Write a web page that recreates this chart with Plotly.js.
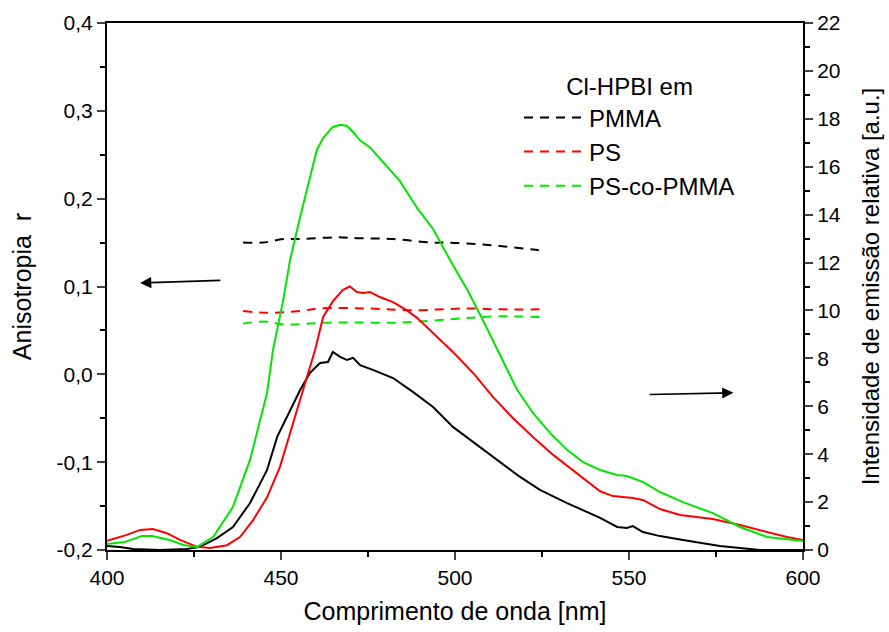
<!DOCTYPE html>
<html>
<head>
<meta charset="utf-8">
<script src="https://cdn.plot.ly/plotly-3.0.1.min.js"></script>
<style>html,body{margin:0;padding:0;background:#fff;}#chart{width:889px;height:632px;}</style>
</head>
<body>
<div id="chart"></div>
<script>
// Emission spectra (right axis, a.u.)
const emBlackX = [400, 403.7, 407.5, 415, 423, 426.7, 431.6, 436.2, 441.1, 446, 448.9, 452.6, 455.5, 458.3, 461.2, 463.5, 464.9, 467, 469, 470.7, 472.7, 476.4, 482.2, 487.9, 493.7, 499.4, 507.2, 512.9, 518.7, 524.4, 532.2, 541.7, 546.6, 549.4, 551.1, 554, 558.9, 565.5, 570.4, 576.1, 581.9, 587.6, 600];
const emBlackY = [0.17, 0.13, 0.04, 0, 0.04, 0.13, 0.50, 0.96, 1.96, 3.34, 4.72, 5.85, 6.68, 7.39, 7.81, 7.85, 8.27, 8.06, 7.93, 8.02, 7.72, 7.52, 7.18, 6.6, 5.97, 5.14, 4.3, 3.67, 3.05, 2.51, 1.96, 1.34, 0.96, 0.92, 1.0, 0.75, 0.58, 0.42, 0.29, 0.17, 0.08, 0, 0];

const emRedX = [400, 405.7, 409.5, 413.2, 417.2, 421, 425.9, 429.6, 434.5, 438.2, 442, 446, 449.7, 452.6, 455.5, 459.8, 462.1, 465, 467.8, 469.8, 471.8, 473.6, 475.6, 478.4, 482.2, 486.2, 489.1, 492.8, 496.6, 499.4, 505.2, 510.9, 516.7, 522.4, 528.2, 533.9, 541.7, 545.4, 551.1, 554, 558.9, 564.7, 574.1, 581.9, 589.7, 595.4, 600];
const emRedY = [0.38, 0.63, 0.84, 0.88, 0.7, 0.42, 0.13, 0.08, 0.2, 0.54, 1.25, 2.2, 3.47, 4.9, 6.26, 8.35, 9.73, 10.4, 10.86, 11.0, 10.77, 10.73, 10.77, 10.56, 10.35, 10.0, 9.69, 9.19, 8.64, 8.27, 7.39, 6.39, 5.5, 4.72, 3.97, 3.34, 2.45, 2.25, 2.17, 2.09, 1.71, 1.46, 1.29, 1.04, 0.75, 0.54, 0.42];

const emGreenX = [400, 405, 410, 413, 418, 422, 425.9, 430.5, 436.2, 441.1, 446, 447.7, 450.6, 452.6, 455.5, 460.3, 462.1, 464.9, 467, 469, 470.7, 472.7, 475.6, 480.5, 484.2, 489, 493.7, 498.6, 503.4, 508, 512, 517.8, 522.4, 527.3, 532.2, 536.8, 541.7, 546.6, 549.4, 554, 558.9, 565.5, 574.1, 581.9, 589.7, 595.4, 600];
const emGreenY = [0.25, 0.33, 0.58, 0.58, 0.42, 0.21, 0.13, 0.54, 1.8, 3.76, 6.56, 8.35, 10.4, 12.1, 13.9, 16.7, 17.2, 17.66, 17.75, 17.7, 17.45, 17.1, 16.8, 16.0, 15.4, 14.3, 13.4, 12.1, 10.9, 9.6, 8.43, 6.7, 5.72, 4.89, 4.18, 3.67, 3.34, 3.13, 3.09, 2.84, 2.42, 2.0, 1.54, 0.96, 0.54, 0.46, 0.38];

// Anisotropy (left axis, r)
const anBlackX = [439.1, 444.8, 450.6, 455.5, 466.1, 471.8, 482.2, 493.7, 497.7, 503.4, 512.9, 522.4, 525.3];
const anBlackY = [0.150, 0.150, 0.154, 0.154, 0.156, 0.155, 0.154, 0.150, 0.150, 0.149, 0.146, 0.142, 0.141];
const anRedX = [439.1, 446, 455.5, 461.2, 474.7, 487.9, 503.4, 512.9, 525.3];
const anRedY = [0.072, 0.070, 0.072, 0.075, 0.075, 0.073, 0.075, 0.074, 0.074];
const anGreenX = [439.1, 446, 450.6, 464.9, 484.2, 503.4, 512.9, 525.3];
const anGreenY = [0.058, 0.060, 0.057, 0.059, 0.059, 0.064, 0.066, 0.065];

const seriesNames = ["PMMA", "PS", "PS-co-PMMA"];
const leftTickVals = [-0.2, -0.1, 0, 0.1, 0.2, 0.3, 0.4];
const leftTickText = ["-0,2", "-0,1", "0,0", "0,1", "0,2", "0,3", "0,4"];
const rightTickVals = [0, 2, 4, 6, 8, 10, 12, 14, 16, 18, 20, 22];
const xTickVals = [400, 450, 500, 550, 600];

const cBlack = "#000000", cRed = "#ff0000", cGreen = "#00e600";
const font = "Liberation Sans, Arial, sans-serif";
const dashPat = "9px,7px";

const traces = [
  {x: emBlackX, y: emBlackY, yaxis: "y2", mode: "lines", line: {color: cBlack, width: 2}, showlegend: false},
  {x: emRedX, y: emRedY, yaxis: "y2", mode: "lines", line: {color: cRed, width: 2}, showlegend: false},
  {x: emGreenX, y: emGreenY, yaxis: "y2", mode: "lines", line: {color: cGreen, width: 2}, showlegend: false},
  {x: anBlackX, y: anBlackY, mode: "lines", name: seriesNames[0], legendgroup: "a", line: {color: cBlack, width: 2, dash: dashPat, shape: "spline"}},
  {x: anRedX, y: anRedY, mode: "lines", name: seriesNames[1], legendgroup: "b", line: {color: cRed, width: 2, dash: dashPat, shape: "spline"}},
  {x: anGreenX, y: anGreenY, mode: "lines", name: seriesNames[2], legendgroup: "c", line: {color: cGreen, width: 2, dash: dashPat, shape: "spline"}}
];

const layout = {
  width: 889, height: 632,
  margin: {l: 107, r: 86, t: 23, b: 82},
  paper_bgcolor: "#fff", plot_bgcolor: "#fff",
  font: {family: font, size: 21, color: "#000"},
  showlegend: true,
  legend: {
    x: 0.592, y: 0.922, xanchor: "left", yanchor: "top",
    bgcolor: "rgba(0,0,0,0)", borderwidth: 0,
    font: {family: font, size: 24, color: "#000"},
    title: {text: "Cl-HPBI em", side: "top center", font: {family: font, size: 24, color: "#000"}},
    itemwidth: 60, tracegroupgap: 0
  },
  xaxis: {
    range: [400, 600], tickvals: xTickVals, ticks: "outside", ticklen: 8, tickwidth: 2,
    showline: true, linewidth: 2, linecolor: "#000", mirror: true, showgrid: false, zeroline: false,
    minor: {dtick: 25, ticks: "outside", ticklen: 5, tickwidth: 2, tickcolor: "#000", showgrid: false},
    tickfont: {size: 21},
    title: {text: "Comprimento de onda [nm]", font: {size: 25}, standoff: 14}
  },
  yaxis: {
    range: [-0.2, 0.4], tickvals: leftTickVals, ticktext: leftTickText, ticks: "outside", ticklen: 8, tickwidth: 2,
    showline: true, linewidth: 2, linecolor: "#000", showgrid: false, zeroline: false,
    minor: {tickvals: [-0.15, -0.05, 0.05, 0.15, 0.25, 0.35], ticks: "outside", ticklen: 5, tickwidth: 2, tickcolor: "#000", showgrid: false},
    tickfont: {size: 21},
    title: {text: "Anisotropia  r", font: {size: 25}, standoff: 18}
  },
  yaxis2: {
    overlaying: "y", side: "right", range: [0, 22], tickvals: rightTickVals, ticks: "outside", ticklen: 8, tickwidth: 2,
    showline: true, linewidth: 2, linecolor: "#000", showgrid: false, zeroline: false,
    minor: {dtick: 1, ticks: "outside", ticklen: 5, tickwidth: 2, tickcolor: "#000", showgrid: false},
    tickfont: {size: 21},
    title: {text: "Intensidade de emissão relativa [a.u.]", font: {size: 24}, standoff: 22}
  },
  annotations: [
    {x: 409.5, y: 0.104, ax: 433, ay: 0.107, xref: "x", yref: "y", axref: "x", ayref: "y", text: "", showarrow: true, arrowhead: 2, arrowsize: 1.4, arrowwidth: 1.6, arrowcolor: "#000"},
    {x: 580, y: -0.021, ax: 555.5, ay: -0.023, xref: "x", yref: "y", axref: "x", ayref: "y", text: "", showarrow: true, arrowhead: 2, arrowsize: 1.4, arrowwidth: 1.6, arrowcolor: "#000"}
  ]
};

Plotly.newPlot("chart", traces, layout, {displayModeBar: false, staticPlot: true});
</script>
</body>
</html>
